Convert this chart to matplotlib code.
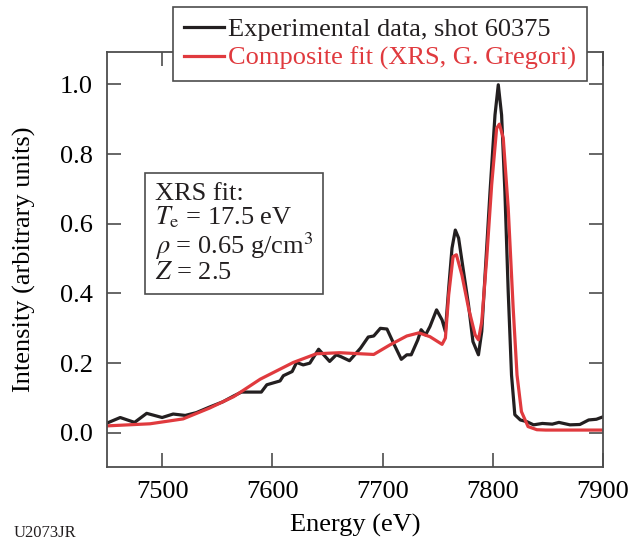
import matplotlib
matplotlib.use('Agg')
import matplotlib.pyplot as plt

exp_energy = [7450, 7462, 7475, 7486, 7500, 7510, 7521, 7531, 7543, 7555,
              7565, 7572, 7590, 7595, 7607, 7610, 7618, 7622, 7628, 7634,
              7642, 7652, 7658, 7662, 7670, 7680, 7687, 7692, 7698, 7704,
              7710, 7717, 7722, 7726, 7732, 7735, 7739, 7743, 7749, 7754,
              7757, 7760, 7763, 7766, 7769, 7773, 7778, 7782, 7787, 7790,
              7793, 7797.5, 7802, 7805, 7808, 7811, 7814, 7817, 7820, 7825,
              7831, 7837, 7845, 7854, 7860, 7870, 7879, 7887, 7894, 7900]
exp_int = [0.028, 0.044, 0.030, 0.056, 0.044, 0.054, 0.050, 0.058, 0.074, 0.089,
           0.106, 0.117, 0.117, 0.138, 0.149, 0.164, 0.176, 0.202, 0.195, 0.200,
           0.240, 0.205, 0.224, 0.219, 0.207, 0.243, 0.275, 0.278, 0.300, 0.298,
           0.257, 0.211, 0.224, 0.224, 0.267, 0.296, 0.281, 0.305, 0.353, 0.324,
           0.291, 0.415, 0.530, 0.582, 0.559, 0.473, 0.367, 0.262, 0.224, 0.291,
           0.453, 0.692, 0.912, 0.999, 0.912, 0.692, 0.405, 0.166, 0.052, 0.037,
           0.032, 0.023, 0.027, 0.025, 0.030, 0.023, 0.024, 0.037, 0.039, 0.046]

# composite fit
fit_energy = [7450, 7489, 7519, 7543, 7565, 7589, 7619, 7640, 7661, 7692,
              7707, 7722, 7733, 7743, 7754, 7757, 7760, 7764, 7767, 7772,
              7778, 7784, 7787, 7790, 7794.5, 7799, 7803.5, 7806, 7809.5, 7814,
              7818.5, 7822, 7826, 7832, 7840, 7848, 7900]
fit_int = [0.020, 0.026, 0.040, 0.071, 0.104, 0.154, 0.202, 0.227, 0.230, 0.225,
           0.253, 0.278, 0.287, 0.276, 0.254, 0.272, 0.396, 0.506, 0.511, 0.453,
           0.358, 0.281, 0.267, 0.319, 0.501, 0.712, 0.874, 0.886, 0.846, 0.645,
           0.358, 0.166, 0.061, 0.018, 0.009, 0.008, 0.008]

xticks = [7500, 7600, 7700, 7800, 7900]
yticks = [0.0, 0.2, 0.4, 0.6, 0.8, 1.0]

plt.rcParams['font.family'] = ['Liberation Serif', 'DejaVu Serif']
plt.rcParams['mathtext.fontset'] = 'stix'

axis_col = '#4d4d4d'
black = '#231f20'
red = '#e03a3e'
fs = 19

fig = plt.figure(figsize=(6.28, 5.42), dpi=100)
ax = fig.add_axes([107 / 628, 1 - 467 / 542, 496 / 628, 415 / 542])

ax.plot(exp_energy, exp_int, color=black, lw=2.3, solid_joinstyle='round',
        label='Experimental data, shot 60375')
ax.plot(fit_energy, fit_int, color=red, lw=2.3, solid_joinstyle='round',
        label='Composite fit (XRS, G. Gregori)')

ax.set_xlim(7450, 7900)
ax.set_ylim(-0.098, 1.093)
ax.set_xticks(xticks)
ax.set_yticks(yticks)
ax.set_yticklabels(['%.1f' % v for v in yticks])
ax.tick_params(direction='in', length=10, width=1.2, color=axis_col,
               top=True, right=True, labelsize=fs, pad=10)
for lbl in ax.get_xticklabels() + ax.get_yticklabels():
    lbl.set_fontfamily('Liberation Serif')
for s in ax.spines.values():
    s.set_color(axis_col)
    s.set_linewidth(1.3)

ax.set_xlabel('Energy (eV)', fontsize=fs, labelpad=8)
ax.set_ylabel('Intensity (arbitrary units)', fontsize=fs, labelpad=17)

leg = ax.legend(loc='upper left', bbox_to_anchor=(173 / 628, 1 - 7 / 542),
                bbox_transform=fig.transFigure, borderaxespad=0, fontsize=fs,
                fancybox=False, framealpha=1, edgecolor=axis_col,
                handlelength=1.55, handletextpad=0.15, borderpad=0.4,
                labelspacing=0.2)
leg.get_frame().set_linewidth(1.2)
for txt, c in zip(leg.get_texts(), [black, red]):
    txt.set_color(c)

ax.text(0.097, 0.685,
        'XRS fit:\n$T_{\\mathrm{e}}$ = 17.5 eV\n$\\rho$ = 0.65 g/cm$^3$\n$Z$ = 2.5',
        transform=ax.transAxes, fontsize=fs, va='top', ha='left', color=black,
        linespacing=1.0,
        bbox=dict(boxstyle='square,pad=0.38', fc='white', ec=axis_col, lw=1.2))

fig.text(14 / 628, 1 - 537 / 542, 'U2073JR', fontsize=12, color=black,
         va='baseline')

fig.savefig('out.png', dpi=100)
